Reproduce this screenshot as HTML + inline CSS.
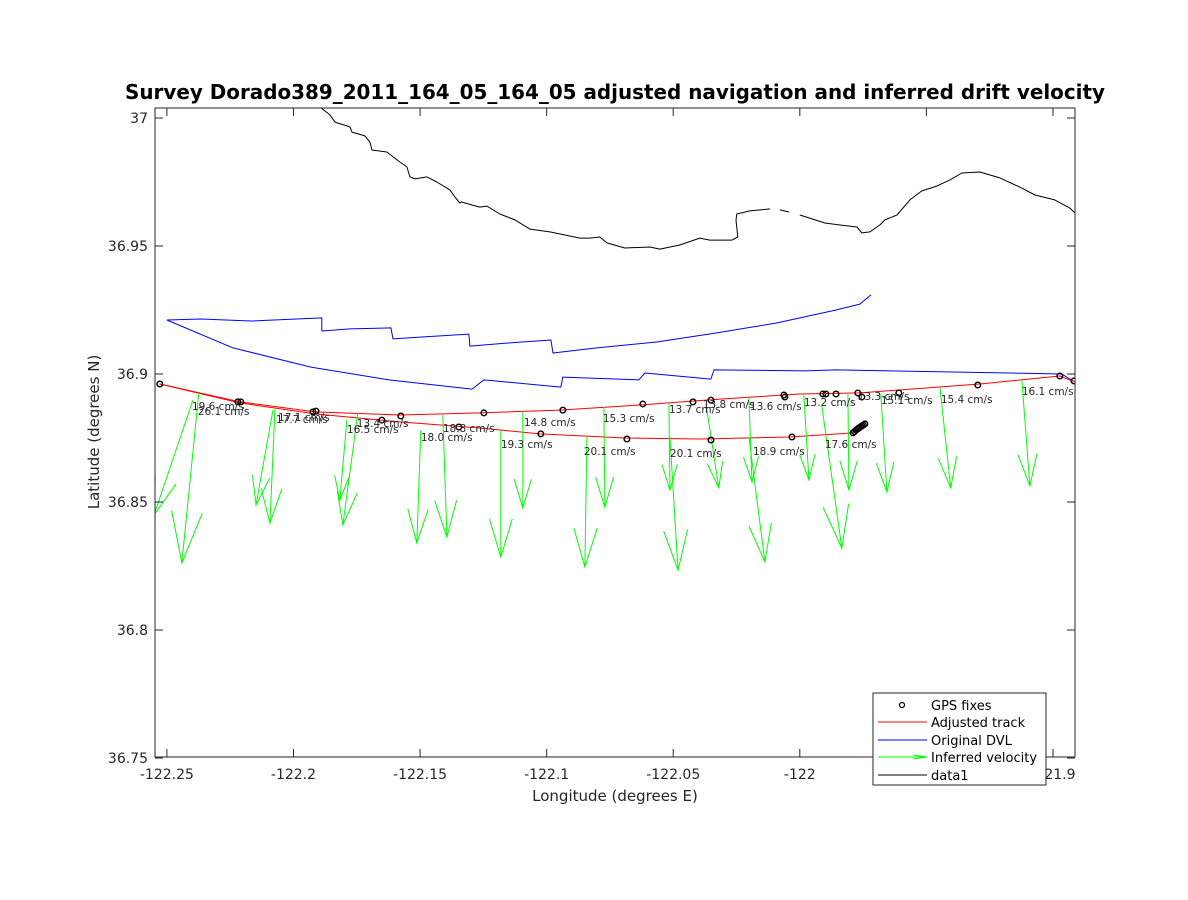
<!DOCTYPE html>
<html><head><meta charset="utf-8"><style>
html,body{margin:0;padding:0;background:#fff;}
svg{display:block;font-family:"DejaVu Sans","Liberation Sans",sans-serif;}
</style></head><body>
<svg id="chart" width="1188" height="900" viewBox="0 0 1188 900" xmlns="http://www.w3.org/2000/svg">
<defs><clipPath id="clip"><rect x="155" y="108" width="920" height="649"/></clipPath></defs>
<rect x="0" y="0" width="1188" height="900" fill="#fff"/>
<text x="615" y="99" text-anchor="middle" font-size="20" font-weight="bold" textLength="980" lengthAdjust="spacingAndGlyphs">Survey Dorado389_2011_164_05_164_05 adjusted navigation and inferred drift velocity</text>
<rect x="155" y="108" width="920" height="649" fill="#fff" stroke="none"/>
<g id="plot" clip-path="url(#clip)"></g>
<g id="axes"></g>
<text x="615" y="801" text-anchor="middle" font-size="15" fill="#262626">Longitude (degrees E)</text>
<text x="0" y="0" transform="translate(99,432) rotate(-90)" text-anchor="middle" font-size="15" fill="#262626">Latitude (degrees N)</text>
<g id="legend">
<rect x="873" y="693" width="173" height="92" fill="#fff" stroke="#262626" stroke-width="1"/>
<g><circle cx="902" cy="705" r="2.5" fill="none" stroke="#000" stroke-width="1.2"/><text x="931" y="710" font-size="13" fill="#000">GPS fixes</text></g>
<g><line x1="878" y1="722" x2="927" y2="722" stroke="#f00"/><text x="931" y="727" font-size="13">Adjusted track</text></g>
<g><line x1="878" y1="740" x2="927" y2="740" stroke="#00f"/><text x="931" y="745" font-size="13">Original DVL</text></g>
<g><line x1="878" y1="757" x2="927" y2="757" stroke="#0f0"/><path d="M913,755 L927,757 L913,759" fill="none" stroke="#0f0"/><text x="931" y="762" font-size="13">Inferred velocity</text></g>
<g><line x1="878" y1="775" x2="927" y2="775" stroke="#000"/><text x="931" y="780" font-size="13">data1</text></g>
</g>
</svg>
<script>
const NS="http://www.w3.org/2000/svg";
const xTicks=[-122.25,-122.2,-122.15,-122.1,-122.05,-122,-121.95,-121.9];
const xTickLabels=["-122.25","-122.2","-122.15","-122.1","-122.05","-122","-121.95","-121.9"];
const yTicks=[37,36.95,36.9,36.85,36.8,36.75];
const yTickLabels=["37","36.95","36.9","36.85","36.8","36.75"];
const coast1Lon=[-122.1896,-122.1856,-122.1836,-122.1777,-122.1769,-122.1718,-122.1698,-122.1690,-122.1631,-122.1580,-122.1552,-122.1540,-122.1520,-122.1473,-122.1434,-122.1382,-122.1362,-122.1343,-122.1335,-122.1295,-122.1264,-122.1236,-122.1185,-122.1125,-122.1066,-122.0987,-122.0928,-122.0869,-122.0829,-122.0790,-122.0762,-122.0691,-122.0592,-122.0553,-122.0474,-122.0395,-122.0355,-122.0268,-122.0245,-122.0252,-122.0249,-122.0197,-122.0118];
const coast1Lat=[37.0043,37.0012,36.9984,36.9965,36.9945,36.9930,36.9906,36.9875,36.9867,36.9828,36.9809,36.9770,36.9762,36.9770,36.9750,36.9719,36.9691,36.9668,36.9672,36.9660,36.9652,36.9656,36.9625,36.9602,36.9566,36.9555,36.9543,36.9531,36.9531,36.9535,36.9512,36.9492,36.9496,36.9488,36.9504,36.9531,36.9523,36.9523,36.9535,36.9602,36.9625,36.9637,36.9645];
const coast2Lon=[-122.0079,-122.0043];
const coast2Lat=[36.9641,36.9633];
const coast3Lon=[-122.0000,-121.9901,-121.9842,-121.9774,-121.9755,-121.9723,-121.9684,-121.9664,-121.9616,-121.9565,-121.9518,-121.9459,-121.9407,-121.9360,-121.9289,-121.9210,-121.9131,-121.9071,-121.8993,-121.8933,-121.8913];
const coast3Lat=[36.9621,36.9590,36.9582,36.9574,36.9551,36.9555,36.9582,36.9602,36.9621,36.9680,36.9715,36.9734,36.9758,36.9785,36.9789,36.9766,36.9730,36.9699,36.9680,36.9648,36.9629];
const dvlALon=[-122.2500,-122.2366,-122.2168,-122.1888,-122.1888,-122.1777,-122.1615,-122.1607,-122.1485,-122.1307,-122.1303,-122.1153,-122.0983,-122.0975,-122.0801,-122.0565,-122.0331,-122.0094,-121.9857,-121.9763,-121.9719];
const dvlALat=[36.9211,36.9215,36.9207,36.9219,36.9168,36.9176,36.9180,36.9137,36.9145,36.9156,36.9109,36.9121,36.9133,36.9082,36.9102,36.9125,36.9160,36.9199,36.9250,36.9273,36.9309];
const dvlBLon=[-122.2500,-122.2239,-122.1931,-122.1623,-122.1295,-122.1248,-122.0944,-122.0936,-122.0636,-122.0612,-122.0351,-122.0339,-121.9976,-121.9857,-121.8965,-121.8921];
const dvlBLat=[36.9211,36.9102,36.9027,36.8977,36.8941,36.8977,36.8949,36.8988,36.8977,36.9004,36.8980,36.9016,36.9012,36.9016,36.9000,36.8973];
const adjALon=[-122.2528,-122.2212,-122.1915,-122.1580,-122.1264,-122.0948,-122.0632,-122.0316,-122.0000,-121.9763,-121.9289,-121.8973,-121.8913];
const adjALat=[36.8961,36.8891,36.8852,36.8840,36.8848,36.8859,36.8879,36.8902,36.8922,36.8926,36.8961,36.8992,36.8969];
const adjBLon=[-122.2528,-122.2212,-122.1915,-122.1580,-122.1264,-122.1027,-122.0691,-122.0395,-122.0039,-121.9790,-121.9739];
const adjBLat=[36.8961,36.8887,36.8844,36.8813,36.8789,36.8766,36.8750,36.8746,36.8754,36.8770,36.8809];
const gpsLon=[-122.2528,-122.2220,-122.2208,-122.1923,-122.1911,-122.1651,-122.1576,-122.1347,-122.1248,-122.0936,-122.0620,-122.0422,-122.0351,-122.0063,-122.0059,-121.9909,-121.9897,-121.9857,-121.9771,-121.9755,-121.9609,-121.9297,-121.8973,-121.8917,-122.1023,-122.0683,-122.0351,-122.0031,-121.9790,-121.9784,-121.9778,-121.9772,-121.9767,-121.9761,-121.9755,-121.9749,-121.9743];
const gpsLat=[36.8961,36.8891,36.8891,36.8852,36.8855,36.8820,36.8836,36.8793,36.8848,36.8859,36.8883,36.8891,36.8898,36.8918,36.8910,36.8922,36.8922,36.8922,36.8926,36.8910,36.8926,36.8957,36.8992,36.8973,36.8766,36.8746,36.8742,36.8754,36.8770,36.8775,36.8781,36.8785,36.8789,36.8793,36.8797,36.8801,36.8805];
const arrowLon=[-122.2397,-122.2374,-122.2081,-122.2073,-122.1789,-122.1746,-122.1497,-122.1410,-122.1181,-122.1094,-122.0841,-122.0774,-122.0517,-122.0513,-122.0371,-122.0201,-122.0201,-121.9984,-121.9913,-121.9810,-121.9680,-121.9447,-121.9123];
const arrowLat=[36.8898,36.8926,36.8859,36.8867,36.8820,36.8848,36.8781,36.8840,36.8781,36.8852,36.8754,36.8871,36.8883,36.8754,36.8887,36.8906,36.8754,36.8918,36.8875,36.8926,36.8922,36.8953,36.8977];
const arrowDLon=[-0.0154,-0.0067,-0.0067,-0.0020,-0.0028,-0.0059,-0.0016,0.0016,0.0000,0.0000,-0.0008,0.0004,0.0004,0.0032,0.0051,0.0012,0.0063,0.0020,0.0079,0.0004,0.0024,0.0043,0.0032];
const arrowDLat=[-0.0449,-0.0664,-0.0371,-0.0449,-0.0313,-0.0438,-0.0441,-0.0477,-0.0496,-0.0375,-0.0508,-0.0391,-0.0336,-0.0520,-0.0332,-0.0328,-0.0488,-0.0332,-0.0555,-0.0379,-0.0383,-0.0398,-0.0414];
const speedLabels=["19.6","26.1","17.1","17.7","13.4","16.5","18.8","18.0","14.8","19.3","15.3","20.1","13.7","13.8","20.1","13.6","18.9","13.2","13.3","17.6","15.1","15.4","16.1"];
const labelLon=[-122.2401,-122.2378,-122.2061,-122.2069,-122.1750,-122.1789,-122.1410,-122.1497,-122.1090,-122.1181,-122.0778,-122.0853,-122.0517,-122.0383,-122.0513,-122.0197,-122.0185,-121.9984,-121.9771,-121.9901,-121.9680,-121.9443,-121.9123];
const labelLat=[36.8875,36.8855,36.8832,36.8824,36.8809,36.8785,36.8789,36.8754,36.8813,36.8727,36.8828,36.8699,36.8863,36.8883,36.8691,36.8875,36.8699,36.8891,36.8914,36.8727,36.8898,36.8902,36.8934];

const X0=155,X1=1075,Y0=757,Y1=108;
const xMin=-122.2547,xMax=-121.8913,yMin=36.7504,yMax=37.0039;
function sx(v){return X0+(v-xMin)/(xMax-xMin)*(X1-X0);}
function sy(v){return Y0-(v-yMin)/(yMax-yMin)*(Y0-Y1);}
const plot=document.getElementById('plot'),axes=document.getElementById('axes');
function mk(tag,attrs,parent){const e=document.createElementNS(NS,tag);for(const k in attrs)e.setAttribute(k,attrs[k]);parent.appendChild(e);return e;}
function poly(lon,lat,color,name){
  const pts=lon.map((v,i)=>sx(v).toFixed(1)+','+sy(lat[i]).toFixed(1)).join(' ');
  const p=mk('polyline',{points:pts,fill:'none',stroke:color,'stroke-width':1,'stroke-linejoin':'round'},plot);
  
  
}
poly(coast1Lon,coast1Lat,'#000','coastline-segment-1');
poly(coast2Lon,coast2Lat,'#000','coastline-segment-2');
poly(coast3Lon,coast3Lat,'#000','coastline-segment-3');
poly(dvlALon,dvlALat,'#00f','original-dvl-track-north');
poly(dvlBLon,dvlBLat,'#00f','original-dvl-track-south');
poly(adjALon,adjALat,'#f00','adjusted-track-north');
poly(adjBLon,adjBLat,'#f00','adjusted-track-south');
for(let i=0;i<arrowLon.length;i++){
  const x1=sx(arrowLon[i]),y1=sy(arrowLat[i]),x2=sx(arrowLon[i]+arrowDLon[i]),y2=sy(arrowLat[i]+arrowDLat[i]);
  const dx=x2-x1,dy=y2-y1,L=Math.hypot(dx,dy),ux=dx/L,uy=dy/L;
  const hb=0.3*L,hw=0.09*L;
  const bx=x2-ux*hb,by=y2-uy*hb;
  const d=`M${x1},${y1} L${x2},${y2} M${bx-uy*hw},${by+ux*hw} L${x2},${y2} L${bx+uy*hw},${by-ux*hw}`;
  const a=mk('path',{d:d,fill:'none',stroke:'#0f0','stroke-width':1},plot);
  
  
}
for(let i=0;i<gpsLon.length;i++){
  const c=mk('circle',{cx:sx(gpsLon[i]),cy:sy(gpsLat[i]),r:2.8,fill:'none',stroke:'#000','stroke-width':1.4},plot);
  
  
}
for(let i=0;i<speedLabels.length;i++){
  const t=mk('text',{x:sx(labelLon[i]),y:sy(labelLat[i])+4,'font-size':10.5,fill:'#262626'},plot);
  t.textContent=speedLabels[i]+' cm/s';
  
  
}
const frame=mk('rect',{x:X0,y:Y1,width:X1-X0,height:Y0-Y1,fill:'none',stroke:'#262626','stroke-width':1},axes);


for(let i=0;i<xTicks.length;i++){
  const x=sx(xTicks[i]);
  mk('line',{x1:x,y1:Y0,x2:x,y2:Y0-8,stroke:'#262626'},axes);
  mk('line',{x1:x,y1:Y1,x2:x,y2:Y1+8,stroke:'#262626'},axes);
  const t=mk('text',{x:x,y:Y0+22,'text-anchor':'middle','font-size':14,fill:'#262626'},axes);
  t.textContent=xTickLabels[i];
  
  
}
for(let i=0;i<yTicks.length;i++){
  const y=sy(yTicks[i]);
  mk('line',{x1:X0,y1:y,x2:X0+8,y2:y,stroke:'#262626'},axes);
  mk('line',{x1:X1,y1:y,x2:X1-8,y2:y,stroke:'#262626'},axes);
  const t=mk('text',{x:X0-7,y:y+5,'text-anchor':'end','font-size':14,fill:'#262626'},axes);
  t.textContent=yTickLabels[i];
  
  
}
</script>
</body></html>
